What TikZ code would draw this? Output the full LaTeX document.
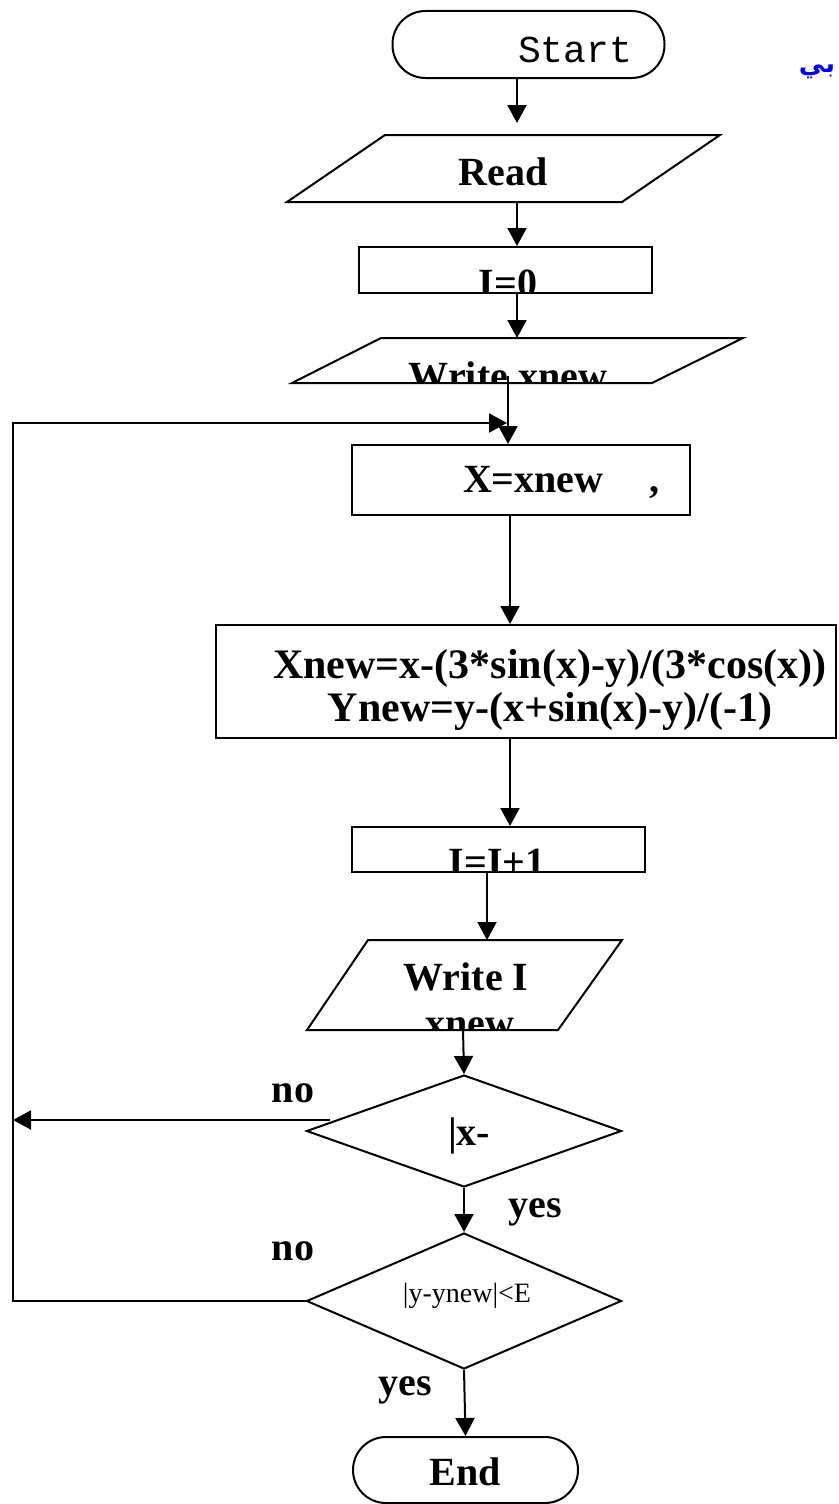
\documentclass[tikz,border=0pt]{standalone}
\usepackage{fontspec}
\setmainfont{Liberation Serif}
\newfontfamily\monof{Liberation Mono}
\newfontfamily\arabicfont[Script=Arabic]{DejaVu Sans}
\TeXXeTstate=1
\usetikzlibrary{arrows.meta,shapes.geometric}
\begin{document}
\begin{tikzpicture}[x=1pt,y=-1pt,line width=2pt,
  arr/.style={-{Triangle[length=18pt,width=19pt]}},
  box/.style={draw,rectangle,inner sep=0pt},
  dia/.style={draw,diamond,inner sep=0pt},
  lbl/.style={font=\fontsize{40}{46}\selectfont\bfseries,inner sep=0pt},
  biglbl/.style={font=\fontsize{42}{46}\selectfont\bfseries,inner sep=0pt},
  small/.style={font=\fontsize{28}{32}\selectfont,inner sep=0pt}]
\useasboundingbox (0,0) rectangle (838,1504);

% Start
\node[box,rounded corners=33pt,minimum width=272pt,minimum height=67pt] (start) at (528.5,44.5) {};
\node[anchor=base west,inner sep=0pt,font=\monof\fontsize{38}{40}\selectfont] (starttxt) at (517,63) {Start};

% Arabic fragment
\node[anchor=base east,inner sep=0pt,text=blue,font=\arabicfont\bfseries\fontsize{26}{30}\selectfont] (ar) at (836,72) {\beginR بي\endR};

% Read
\draw (385,135) -- (720,135) -- (622,202) -- (287,202) -- cycle;
\coordinate (readT) at (517,135);
\coordinate (readB) at (517,202);
\node[lbl,anchor=base] (readtxt) at (503,185) {Read};

% I=0
\node[box,minimum width=293pt,minimum height=46pt] (i0) at (505.5,270) {};
\begin{scope}
\clip (359,247) rectangle (652,293);
\node[lbl,anchor=base] (i0txt) at (508,296) {I=0};
\end{scope}

% Write xnew
\draw (381,338) -- (743,338) -- (652,383) -- (292,383) -- cycle;
\coordinate (wxT) at (517,338);
\coordinate (wxL) at (508,376);
\begin{scope}
\clip (381,338) -- (743,338) -- (652,383) -- (292,383) -- cycle;
\node[lbl,anchor=base] (wxtxt) at (508,389) {Write xnew};
\end{scope}

% X=xnew
\node[box,minimum width=338pt,minimum height=70pt] (xbox) at (521,480) {};
\node[lbl,anchor=base west] (xtxt) at (462,492) {X=xnew\hspace{46pt},};

% big box
\node[box,minimum width=620pt,minimum height=113pt] (big) at (526,681.5) {};
\node[biglbl,anchor=base] (bigtxt1) at (550,678) {Xnew=x-(3*sin(x)-y)/(3*cos(x))};
\node[biglbl,anchor=base] (bigtxt2) at (550,721) {Ynew=y-(x+sin(x)-y)/(-1)};
\coordinate (c1) at (510,0);

% I=I+1
\node[box,minimum width=293pt,minimum height=45pt] (inc) at (498.5,849.5) {};
\begin{scope}
\clip (352,827) rectangle (645,872);
\node[lbl,anchor=base] (inctxt) at (497,875) {I=I+1};
\end{scope}

% Write I xnew
\draw (368,940) -- (622,940) -- (558,1030) -- (307,1030) -- cycle;
\coordinate (wiT) at (487,940);
\coordinate (wiB) at (463,1030);
\begin{scope}
\clip (368,940) -- (622,940) -- (558,1030) -- (307,1030) -- cycle;
\node[lbl,anchor=base] (witxt1) at (466,990) {Write I};
\node[lbl,anchor=base] (witxt2) at (470,1036) {xnew};
\end{scope}

% diamonds
\node[dia,minimum width=315pt,minimum height=112pt] (d1) at (464,1131) {};
\node[lbl,anchor=base west] (d1txt) at (447,1145) {|x-};
\node[dia,minimum width=315pt,minimum height=136pt] (d2) at (464,1301) {};
\node[small,anchor=base] (d2txt) at (467,1302) {|y-ynew|<E};

% End
\node[box,rounded corners=33pt,minimum width=225pt,minimum height=66pt] (end) at (465.5,1470) {};
\node[lbl] (endtxt) at (465,1472) {End};

% labels
\node[lbl,anchor=base] (no1) at (293,1102) {no};
\node[lbl,anchor=base] (yes1) at (535,1217) {yes};
\node[lbl,anchor=base] (no2) at (293,1260) {no};
\node[lbl,anchor=base] (yes2) at (405,1395) {yes};

% connectors
\draw[arr,shorten >=12pt] (start.south -| readT) -- (readT);
\draw[arr] (readB) -- (i0.north -| readB);
\draw[arr] (i0.south -| readB) -- (wxT);
\draw[arr] (wxL) -- (xbox.north -| wxL);
\draw[arr] (xbox.south -| c1) -- (big.north -| c1);
\draw[arr] (big.south -| c1) -- (inc.north -| c1);
\draw[arr] (inc.south -| wiT) -- (wiT);
\draw[arr] (wiB) -- (d1.north);
\draw[arr] (d1.south) -- (d2.north);
\draw[arr] (d2.south) -- (end.north);

\coordinate (n1) at (330,1120);
\coordinate (lx1) at (13,1120);
\draw[arr] (n1) -- (lx1);
\coordinate (lx2) at (13,1301);
\coordinate (lx3) at (13,423);
\coordinate (loopTip) at (507,423);
\draw[arr] (d2.west) -- (lx2) -- (lx3) -- (loopTip);
\end{tikzpicture}
\end{document}
